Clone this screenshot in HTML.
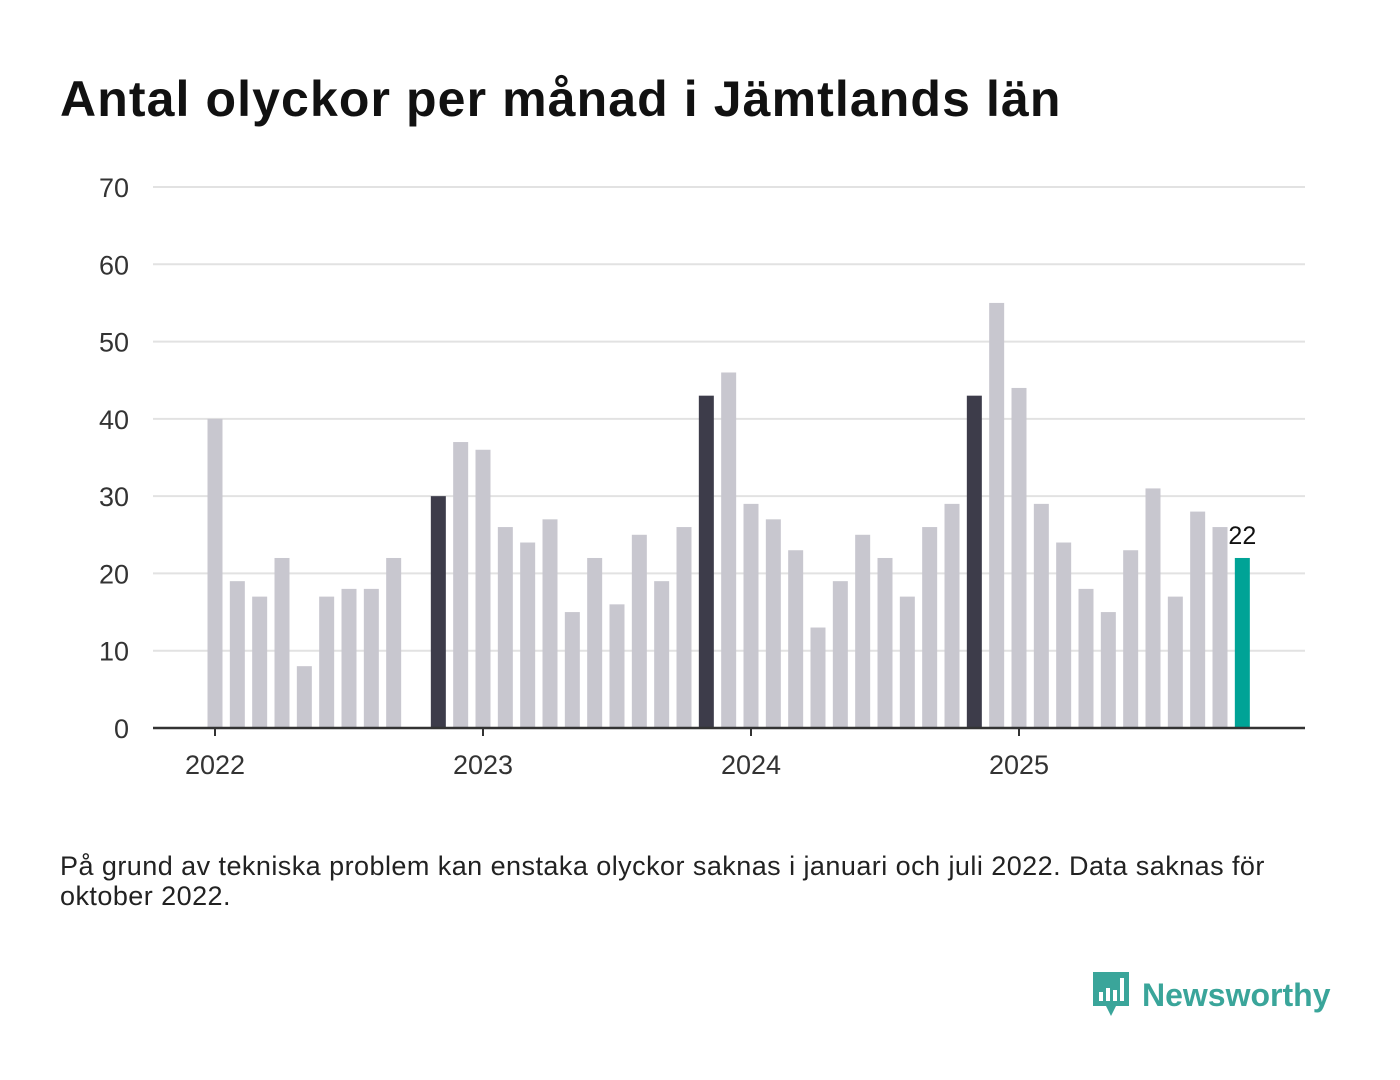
<!DOCTYPE html>
<html><head><meta charset="utf-8"><style>
body{margin:0;width:1400px;height:1080px;background:#fff;font-family:"Liberation Sans",sans-serif;overflow:hidden;position:relative}
h1{position:absolute;left:60px;top:70px;margin:0;font-size:50px;font-weight:bold;color:#111;letter-spacing:1.1px}
#note{position:absolute;left:60px;top:851px;font-size:27px;letter-spacing:0.45px;line-height:30px;color:#222;white-space:nowrap}
#logo{position:absolute;left:1090px;top:970px;display:flex;align-items:center;gap:10px}
#logo span{font-size:32px;font-weight:bold;color:#3aa59a}
</style></head><body>
<h1>Antal olyckor per månad i Jämtlands län</h1>
<svg id="chart" width="1400" height="820" style="position:absolute;left:0;top:0"></svg>
<div id="note">På grund av tekniska problem kan enstaka olyckor saknas i januari och juli 2022. Data saknas för<br>oktober 2022.</div>
<div id="logo">
<svg width="42" height="50" viewBox="0 0 42 50"><path d="M3 2h36v34H26l-5 10-5-10H3z" fill="#3aa59a"/><rect x="9" y="22" width="4" height="9" fill="#fff"/><rect x="16" y="18" width="4" height="13" fill="#fff"/><rect x="23" y="20" width="4" height="11" fill="#fff"/><rect x="30" y="8" width="4" height="23" fill="#fff"/></svg>
<span>Newsworthy</span></div>
<script>
const values=[40,19,17,22,8,17,18,18,22,null,30,37,36,26,24,27,15,22,16,25,19,26,43,46,29,27,23,13,19,25,22,17,26,29,43,55,44,29,24,18,15,23,31,17,28,26,22];
const yTicks=[0,10,20,30,40,50,60,70];
const yearLabels=["2022","2023","2024","2025"];
const highlightMonth=10;
const ns="http://www.w3.org/2000/svg";
const svg=document.getElementById('chart');
const x0=215,mw=268/12,y0=728,yk=541/70;
const X=i=>x0+i*mw, Y=v=>y0-v*yk;
function mk(t,a){const e=document.createElementNS(ns,t);for(const k in a)e.setAttribute(k,a[k]);svg.appendChild(e);return e;}
yTicks.forEach(t=>{
 if(t>0){const l=mk('line',{x1:153,x2:1305,y1:Y(t),y2:Y(t),stroke:'#e2e2e2','stroke-width':2});
 
 }
 const tx=mk('text',{x:129,y:Y(t)+10,'text-anchor':'end','font-size':27,fill:'#333','font-family':'Liberation Sans'});
 tx.textContent=t;
 
 
});
values.forEach((v,i)=>{
 if(v==null)return;
 const last=i===values.length-1;
 const col=last?'#00a396':(i%12===highlightMonth?'#3d3c4a':'#c8c7cf');
 const r=mk('rect',{x:X(i)-7.5,y:Y(v),width:15,height:v*yk,fill:col});
 
 
 if(last){const t=mk('text',{x:X(i),y:Y(v)-14,'text-anchor':'middle','font-size':25,fill:'#111','font-family':'Liberation Sans'});t.textContent=v;
 
 }
});
const ax=mk('line',{x1:153,x2:1305,y1:y0,y2:y0,stroke:'#333','stroke-width':2.5});


yearLabels.forEach((y,k)=>{
 const x=X(k*12);
 const tk=mk('line',{x1:x,x2:x,y1:y0,y2:y0+8,stroke:'#333','stroke-width':2});
 
 
 const t=mk('text',{x:x,y:774,'text-anchor':'middle','font-size':27,fill:'#333','font-family':'Liberation Sans'});t.textContent=y;
 
 
});
</script>
</body></html>
